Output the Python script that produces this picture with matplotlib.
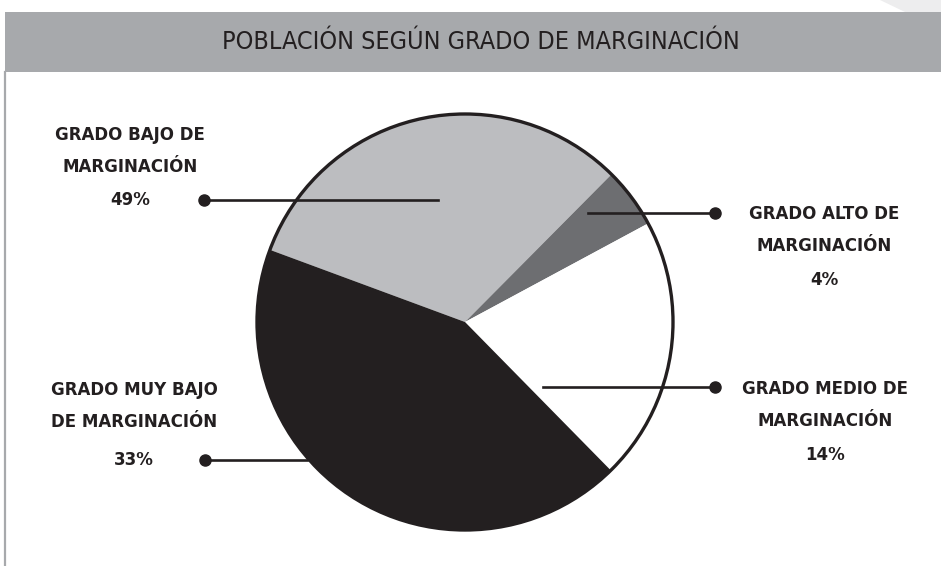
import matplotlib.pyplot as plt
from matplotlib.patches import Rectangle, Circle, Polygon

# Data
title = "POBLACIÓN SEGÚN GRADO DE MARGINACIÓN"
categories = ["GRADO BAJO DE\nMARGINACIÓN", "GRADO ALTO DE\nMARGINACIÓN",
              "GRADO MEDIO DE\nMARGINACIÓN", "GRADO MUY BAJO\nDE MARGINACIÓN"]
pct_labels = ["49%", "4%", "14%", "33%"]
# wedge sizes as drawn in the picture (degrees share of the circle)
wedge_sizes = [31.8, 4.7, 20.5, 43.0]
colors = ["#bcbdc0", "#6d6e71", "#ffffff", "#231f20"]

W, H = 941, 566
fig = plt.figure(figsize=(W / 100, H / 100), dpi=100)
ax = fig.add_axes([0, 0, 1, 1])

def py(y):
    # pixel row -> data y
    return H - y

cx, cy, r = 465, py(322), 208

# faint shape top right
ax.add_patch(Polygon([(880, py(0)), (941, py(0)), (941, py(22)), (905, py(12))],
                     closed=True, color="#ededee", lw=0, zorder=0))

# title bar and left rule
ax.add_patch(Rectangle((5, py(72)), W - 5, 60, color="#a7a9ac", lw=0, zorder=1))
ax.plot([5.5, 5.5], [py(72), py(566)], color="#a7a9ac", lw=1.6, zorder=1)
ax.text(481, py(42), title, ha="center", va="center", fontsize=18,
        color="#231f20", fontstretch="condensed", zorder=2)

# pie
ax.pie(wedge_sizes, colors=colors, startangle=159.7, counterclock=False,
       radius=r, center=(cx, cy), wedgeprops=dict(linewidth=0), frame=True)
ax.add_patch(Circle((cx, cy), r, fill=False, ec="#231f20", lw=2.4, zorder=5))

# leader lines (pixel coords: start, end with dot)
leaders = [((438, 200), (204, 200)),
           ((588, 213), (715, 213)),
           ((543, 387), (715, 387)),
           ((307, 460), (205, 460))]
for (x0, y0), (x1, y1) in leaders:
    ax.plot([x0, x1], [py(y0), py(y1)], color="#231f20", lw=1.9, zorder=6)
    ax.plot(x1, py(y1), "o", color="#231f20", ms=8, zorder=7)

# labels
label_pos = [(130, 151, 200), (824, 230, 280), (825, 405, 455), (134, 406, 460)]
for cat, pct, (x, ytxt, ypct) in zip(categories, pct_labels, label_pos):
    ax.text(x, py(ytxt), cat, ha="center", va="center", fontsize=12,
            fontweight="bold", color="#231f20", linespacing=2.0)
    ax.text(x, py(ypct), pct, ha="center", va="center", fontsize=12,
            fontweight="bold", color="#231f20")

ax.set_xlim(0, W)
ax.set_ylim(0, H)
ax.set_aspect("auto")
ax.axis("off")

fig.savefig("out.png", dpi=100)
